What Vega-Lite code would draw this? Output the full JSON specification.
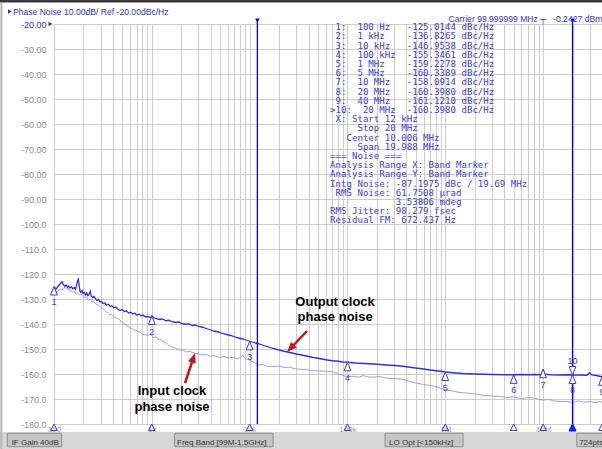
{
  "$schema": "https://vega.github.io/schema/vega-lite/v6.json",
  "width": 548,
  "height": 400,
  "autosize": {"type": "none"},
  "padding": {"left": 54, "top": 24, "right": 0, "bottom": 25},
  "background": "#ffffff",
  "config": {"view": {"stroke": null}, "font": "Liberation Sans"},
  "resolve": {"axis": {"x": "independent", "y": "independent"}},
  "data": {"values": [{}]},
  "datasets": {
    "input": [
      {"freq":100,"level":-127.6},{"freq":104,"level":-126.9},{"freq":108,"level":-127.3},{"freq":112,"level":-126.4},{"freq":116,"level":-126.0},{"freq":120,"level":-126.6},{"freq":125,"level":-125.7},{"freq":130,"level":-125.4},{"freq":135,"level":-126.1},{"freq":140,"level":-125.8},{"freq":145,"level":-126.9},{"freq":150,"level":-126.5},{"freq":156,"level":-127.4},{"freq":162,"level":-127.0},{"freq":168,"level":-128.1},{"freq":175,"level":-127.6},{"freq":182,"level":-128.4},{"freq":190,"level":-128.2},{"freq":198,"level":-129.0},{"freq":206,"level":-129.6},{"freq":215,"level":-129.3},{"freq":225,"level":-130.4},{"freq":235,"level":-130.0},{"freq":245,"level":-131.2},{"freq":255,"level":-131.0},{"freq":265,"level":-131.9},{"freq":280,"level":-132.3},{"freq":295,"level":-133.0},{"freq":310,"level":-133.8},{"freq":325,"level":-134.2},{"freq":340,"level":-135.1},{"freq":355,"level":-135.4},{"freq":374,"level":-136.4},{"freq":390,"level":-136.2},{"freq":410,"level":-137.1},{"freq":430,"level":-137.6},{"freq":450,"level":-137.9},{"freq":473,"level":-138.4},{"freq":495,"level":-139.3},{"freq":520,"level":-139.9},{"freq":545,"level":-140.5},{"freq":570,"level":-140.9},{"freq":598,"level":-141.6},{"freq":630,"level":-141.9},{"freq":660,"level":-142.6},{"freq":690,"level":-142.4},{"freq":720,"level":-143.2},{"freq":757,"level":-143.0},{"freq":790,"level":-143.9},{"freq":830,"level":-144.3},{"freq":860,"level":-144.0},{"freq":893,"level":-144.8},{"freq":940,"level":-144.2},{"freq":1000,"level":-144.4},{"freq":1050,"level":-145.6},{"freq":1100,"level":-145.1},{"freq":1150,"level":-146.2},{"freq":1200,"level":-146.0},{"freq":1300,"level":-147.0},{"freq":1400,"level":-147.6},{"freq":1500,"level":-148.6},{"freq":1640,"level":-149.3},{"freq":1750,"level":-149.6},{"freq":1900,"level":-150.4},{"freq":2080,"level":-150.4},{"freq":2250,"level":-151.2},{"freq":2450,"level":-150.9},{"freq":2630,"level":-151.5},{"freq":2850,"level":-151.8},{"freq":3100,"level":-152.1},{"freq":3400,"level":-152.4},{"freq":3700,"level":-152.2},{"freq":4000,"level":-152.9},{"freq":4300,"level":-152.6},{"freq":4640,"level":-153.1},{"freq":5000,"level":-153.4},{"freq":5500,"level":-152.9},{"freq":6000,"level":-153.6},{"freq":6750,"level":-153.3},{"freq":7500,"level":-153.9},{"freq":8000,"level":-153.4},{"freq":8540,"level":-152.4},{"freq":9000,"level":-153.9},{"freq":9500,"level":-154.2},{"freq":10000,"level":-154.4},{"freq":11000,"level":-155.2},{"freq":12200,"level":-156.4},{"freq":13500,"level":-156.2},{"freq":15000,"level":-156.9},{"freq":17300,"level":-157.1},{"freq":20000,"level":-156.8},{"freq":22500,"level":-157.4},{"freq":25800,"level":-157.3},{"freq":29000,"level":-157.9},{"freq":32600,"level":-158.1},{"freq":38000,"level":-158.3},{"freq":45000,"level":-158.6},{"freq":52000,"level":-158.8},{"freq":60000,"level":-158.9},{"freq":71000,"level":-159.1},{"freq":80000,"level":-159.9},{"freq":90000,"level":-160.6},{"freq":100000,"level":-161.1},{"freq":115000,"level":-160.9},{"freq":130000,"level":-161.3},{"freq":145000,"level":-160.6},{"freq":158000,"level":-161.1},{"freq":180000,"level":-161.3},{"freq":210000,"level":-161.0},{"freq":250000,"level":-161.6},{"freq":300000,"level":-161.8},{"freq":350000,"level":-162.0},{"freq":420000,"level":-162.8},{"freq":500000,"level":-163.6},{"freq":600000,"level":-164.2},{"freq":760000,"level":-164.8},{"freq":880000,"level":-165.6},{"freq":1000000,"level":-166.4},{"freq":1200000,"level":-166.8},{"freq":1400000,"level":-167.4},{"freq":1680000,"level":-167.6},{"freq":2000000,"level":-168.0},{"freq":2500000,"level":-168.6},{"freq":3000000,"level":-168.8},{"freq":3600000,"level":-169.0},{"freq":4300000,"level":-169.4},{"freq":5000000,"level":-169.2},{"freq":6000000,"level":-169.8},{"freq":7000000,"level":-169.5},{"freq":8100000,"level":-169.6},{"freq":9000000,"level":-170.2},{"freq":10000000,"level":-170.4},{"freq":11500000,"level":-170.2},{"freq":13000000,"level":-170.8},{"freq":15000000,"level":-171.0},{"freq":17600000,"level":-171.0},{"freq":20000000,"level":-171.4},{"freq":23000000,"level":-170.8},{"freq":26000000,"level":-171.3},{"freq":30000000,"level":-171.0},{"freq":34000000,"level":-171.5},{"freq":38000000,"level":-171.0},{"freq":40000000,"level":-171.2}
    ],
    "output": [
      {"freq":100,"level":-126.8},{"freq":103,"level":-125.6},{"freq":106,"level":-125.9},{"freq":110,"level":-124.9},{"freq":114,"level":-124.2},{"freq":118,"level":-123.6},{"freq":121,"level":-123.1},{"freq":125,"level":-124.3},{"freq":129,"level":-124.9},{"freq":133,"level":-124.4},{"freq":137,"level":-125.3},{"freq":141,"level":-124.8},{"freq":146,"level":-125.6},{"freq":151,"level":-125.2},{"freq":156,"level":-125.9},{"freq":161,"level":-125.4},{"freq":166,"level":-126.1},{"freq":170,"level":-124.6},{"freq":174,"level":-122.8},{"freq":177,"level":-122.1},{"freq":180,"level":-123.9},{"freq":184,"level":-126.8},{"freq":188,"level":-127.4},{"freq":193,"level":-126.6},{"freq":198,"level":-127.8},{"freq":204,"level":-127.3},{"freq":210,"level":-128.4},{"freq":216,"level":-127.6},{"freq":222,"level":-128.7},{"freq":228,"level":-128.2},{"freq":235,"level":-126.9},{"freq":240,"level":-128.8},{"freq":248,"level":-129.4},{"freq":256,"level":-128.9},{"freq":265,"level":-129.8},{"freq":275,"level":-130.6},{"freq":285,"level":-130.2},{"freq":295,"level":-131.2},{"freq":305,"level":-131.0},{"freq":318,"level":-131.9},{"freq":330,"level":-131.5},{"freq":345,"level":-132.4},{"freq":360,"level":-132.1},{"freq":375,"level":-133.0},{"freq":390,"level":-132.7},{"freq":410,"level":-133.5},{"freq":430,"level":-133.2},{"freq":450,"level":-134.1},{"freq":475,"level":-134.6},{"freq":500,"level":-134.2},{"freq":525,"level":-135.0},{"freq":550,"level":-134.8},{"freq":580,"level":-135.6},{"freq":610,"level":-135.3},{"freq":640,"level":-136.0},{"freq":670,"level":-135.7},{"freq":700,"level":-136.4},{"freq":740,"level":-136.1},{"freq":780,"level":-136.7},{"freq":820,"level":-136.5},{"freq":870,"level":-137.2},{"freq":920,"level":-137.0},{"freq":970,"level":-137.5},{"freq":1000,"level":-136.8},{"freq":1060,"level":-137.6},{"freq":1120,"level":-137.9},{"freq":1200,"level":-138.2},{"freq":1280,"level":-138.0},{"freq":1400,"level":-138.7},{"freq":1500,"level":-138.5},{"freq":1600,"level":-139.1},{"freq":1750,"level":-139.4},{"freq":1900,"level":-139.2},{"freq":2000,"level":-139.8},{"freq":2200,"level":-140.1},{"freq":2400,"level":-140.0},{"freq":2600,"level":-140.6},{"freq":2800,"level":-140.4},{"freq":3000,"level":-141.0},{"freq":3300,"level":-141.3},{"freq":3600,"level":-141.8},{"freq":4000,"level":-142.4},{"freq":4400,"level":-142.9},{"freq":4800,"level":-143.2},{"freq":5300,"level":-143.8},{"freq":5800,"level":-144.2},{"freq":6400,"level":-144.6},{"freq":7000,"level":-145.1},{"freq":7700,"level":-145.6},{"freq":8500,"level":-146.0},{"freq":9300,"level":-146.5},{"freq":10000,"level":-146.9},{"freq":11000,"level":-147.4},{"freq":12000,"level":-147.8},{"freq":13500,"level":-148.4},{"freq":15000,"level":-149.0},{"freq":17000,"level":-149.7},{"freq":20000,"level":-150.4},{"freq":22500,"level":-150.9},{"freq":25000,"level":-151.3},{"freq":28000,"level":-151.7},{"freq":30000,"level":-152.0},{"freq":35000,"level":-152.5},{"freq":40000,"level":-153.0},{"freq":45000,"level":-153.4},{"freq":50000,"level":-153.7},{"freq":60000,"level":-154.3},{"freq":70000,"level":-154.7},{"freq":80000,"level":-154.9},{"freq":90000,"level":-155.2},{"freq":100000,"level":-155.3},{"freq":120000,"level":-155.6},{"freq":150000,"level":-155.8},{"freq":200000,"level":-156.1},{"freq":250000,"level":-156.4},{"freq":300000,"level":-156.6},{"freq":350000,"level":-156.8},{"freq":400000,"level":-157.1},{"freq":500000,"level":-157.6},{"freq":600000,"level":-158.0},{"freq":700000,"level":-158.4},{"freq":850000,"level":-158.8},{"freq":1000000,"level":-159.2},{"freq":1200000,"level":-159.5},{"freq":1500000,"level":-159.8},{"freq":2000000,"level":-160.0},{"freq":2500000,"level":-160.1},{"freq":3000000,"level":-160.2},{"freq":4000000,"level":-160.3},{"freq":5000000,"level":-160.3},{"freq":6000000,"level":-160.2},{"freq":7000000,"level":-160.3},{"freq":8000000,"level":-160.2},{"freq":9000000,"level":-160.3},{"freq":9700000,"level":-160.1},{"freq":10000000,"level":-158.1},{"freq":10300000,"level":-160.1},{"freq":12000000,"level":-160.3},{"freq":15000000,"level":-160.4},{"freq":18000000,"level":-160.3},{"freq":20000000,"level":-160.4},{"freq":24000000,"level":-160.4},{"freq":28000000,"level":-160.5},{"freq":30000000,"level":-159.5},{"freq":31500000,"level":-160.4},{"freq":35000000,"level":-160.6},{"freq":40000000,"level":-161.1}
    ],
    "markers": [
      {"marker":"1","freq":100,"value":-125.0144},
      {"marker":"2","freq":1000,"value":-136.8265},
      {"marker":"3","freq":10000,"value":-146.9538},
      {"marker":"4","freq":100000,"value":-155.3461},
      {"marker":"5","freq":1000000,"value":-159.2278},
      {"marker":"6","freq":5000000,"value":-160.3389},
      {"marker":"7","freq":10000000,"value":-158.0914},
      {"marker":"8","freq":20000000,"value":-160.398},
      {"marker":"9","freq":40000000,"value":-161.121}
    ],
    "active": [{"marker":"10","freq":20000000,"value":-160.398}],
    "band": [{"edge":"Start","freq":12000},{"edge":"Stop","freq":20000000}]
  },
  "layer": [
    {
      "data": {"name": "input"},
      "mark": {"type": "line", "color": "#9d9df2", "strokeWidth": 1},
      "encoding": {
        "x": {"field": "freq", "type": "quantitative",
          "scale": {"type": "log", "domain": [100, 40000000], "nice": false},
          "axis": {"orient": "bottom", "title": null, "grid": true, "gridColor": "#cccccc", "gridWidth": 1, "domain": false, "ticks": false,
            "values": [100,200,300,400,500,600,700,800,900,1000,2000,3000,4000,5000,6000,7000,8000,9000,10000,20000,30000,40000,50000,60000,70000,80000,90000,100000,200000,300000,400000,500000,600000,700000,800000,900000,1000000,2000000,3000000,4000000,5000000,6000000,7000000,8000000,9000000,10000000,20000000,30000000,40000000],
            "labelExpr": "datum.value == 100 ? '100' : datum.value == 1000 ? '1k' : datum.value == 10000 ? '10k' : datum.value == 100000 ? '100k' : datum.value == 1000000 ? '1M' : datum.value == 10000000 ? '10M' : ''",
            "labelColor": "#9a9aaa", "labelFontSize": 8, "labelPadding": 1, "labelOverlap": false, "labelFlush": false}},
        "y": {"field": "level", "type": "quantitative",
          "scale": {"domain": [-180, -20], "zero": false, "nice": false},
          "axis": {"orient": "left", "title": null, "grid": true, "gridColor": "#cccccc", "gridWidth": 1, "domain": false, "ticks": false,
            "values": [-180,-170,-160,-150,-140,-130,-120,-110,-100,-90,-80,-70,-60,-50,-40,-30,-20],
            "labelExpr": "'-' + format(-datum.value, '.4r')",
            "labelColor": {"condition": {"test": "datum.value == -20", "value": "#3232c8"}, "value": "#8c8c96"},
            "labelFontSize": 9, "labelPadding": 8, "labelOverlap": false}}
      }
    },
    {
      "data": {"name": "output"},
      "mark": {"type": "line", "color": "#2f2fe0", "strokeWidth": 1.3},
      "encoding": {
        "x": {"field": "freq", "type": "quantitative", "axis": null},
        "y": {"field": "level", "type": "quantitative", "axis": null}
      }
    },
    {
      "data": {"name": "band"},
      "mark": {"type": "rule", "color": "#0000ff", "strokeWidth": 1.3},
      "encoding": {
        "x": {"field": "freq", "type": "quantitative", "axis": null},
        "y": {"datum": -18.2, "type": "quantitative", "axis": null},
        "y2": {"datum": -180}
      }
    },
    {
      "data": {"name": "band"},
      "mark": {"type": "point", "shape": "triangle-down", "size": 22, "filled": true, "color": "#0000ff", "opacity": 1},
      "encoding": {
        "x": {"field": "freq", "type": "quantitative", "axis": null},
        "y": {"datum": -18.6, "type": "quantitative", "axis": null}
      }
    },
    {
      "data": {"name": "markers"},
      "mark": {"type": "point", "shape": "M0,0L-0.8,2L0.8,2Z", "size": 72, "fill": "#ffffff", "stroke": "#3a3ad0", "strokeWidth": 1, "opacity": 1},
      "encoding": {
        "x": {"field": "freq", "type": "quantitative", "axis": null},
        "y": {"field": "value", "type": "quantitative", "axis": null}
      }
    },
    {
      "data": {"name": "markers"},
      "mark": {"type": "text", "dy": 15.5, "fontSize": 9, "color": "#3a3ad0", "baseline": "middle", "align": "center"},
      "encoding": {
        "x": {"field": "freq", "type": "quantitative", "axis": null},
        "y": {"field": "value", "type": "quantitative", "axis": null},
        "text": {"field": "marker"}
      }
    },
    {
      "data": {"name": "active"},
      "mark": {"type": "point", "shape": "M0,0L-0.8,-2L0.8,-2Z", "size": 72, "fill": "#ffffff", "stroke": "#3a3ad0", "strokeWidth": 1, "opacity": 1},
      "encoding": {
        "x": {"field": "freq", "type": "quantitative", "axis": null},
        "y": {"field": "value", "type": "quantitative", "axis": null}
      }
    },
    {
      "data": {"name": "active"},
      "mark": {"type": "text", "dy": -14, "fontSize": 9, "color": "#3a3ad0", "baseline": "middle", "align": "center"},
      "encoding": {
        "x": {"field": "freq", "type": "quantitative", "axis": null},
        "y": {"field": "value", "type": "quantitative", "axis": null},
        "text": {"field": "marker"}
      }
    },
    {
      "data": {"name": "markers"},
      "mark": {"type": "point", "shape": "M0,0L-1,2L1,2Z", "size": 42, "fill": "transparent", "stroke": "#3a3ad0", "strokeWidth": 1, "opacity": 1},
      "encoding": {
        "x": {"field": "freq", "type": "quantitative", "axis": null},
        "y": {"datum": -180, "type": "quantitative", "axis": null}
      }
    },
    {
      "data": {"name": "active"},
      "mark": {"type": "point", "shape": "M0,0L-1,2L1,2Z", "size": 50, "fill": "#1e1ee0", "stroke": "#1e1ee0", "strokeWidth": 1, "opacity": 1},
      "encoding": {
        "x": {"field": "freq", "type": "quantitative", "axis": null},
        "y": {"datum": -180, "type": "quantitative", "axis": null}
      }
    },
    {
      "mark": {"type": "rect", "color": "#d8d8d8"},
      "encoding": {
        "x": {"datum": 27, "type": "quantitative", "axis": null},
        "x2": {"datum": 50000000},
        "y": {"datum": -183.2, "type": "quantitative", "axis": null},
        "y2": {"datum": -192}
      }
    },
    {
      "mark": {"type": "rect", "fill": "#c6c6c6", "stroke": "#8e8e8e", "strokeWidth": 1},
      "encoding": {
        "x": {"datum": 33.3, "type": "quantitative", "axis": null},
        "x2": {"datum": 119.9},
        "y": {"datum": -183.72, "type": "quantitative", "axis": null},
        "y2": {"datum": -189.08}
      }
    },
    {
      "mark": {"type": "rect", "fill": "#c6c6c6", "stroke": "#8e8e8e", "strokeWidth": 1},
      "encoding": {
        "x": {"datum": 1706, "type": "quantitative", "axis": null},
        "x2": {"datum": 17350},
        "y": {"datum": -183.72, "type": "quantitative", "axis": null},
        "y2": {"datum": -189.08}
      }
    },
    {
      "mark": {"type": "rect", "fill": "#c6c6c6", "stroke": "#8e8e8e", "strokeWidth": 1},
      "encoding": {
        "x": {"datum": 242400, "type": "quantitative", "axis": null},
        "x2": {"datum": 1520000},
        "y": {"datum": -183.72, "type": "quantitative", "axis": null},
        "y2": {"datum": -189.08}
      }
    },
    {
      "mark": {"type": "rect", "fill": "#c6c6c6", "stroke": "#8e8e8e", "strokeWidth": 1},
      "encoding": {
        "x": {"datum": 22110000, "type": "quantitative", "axis": null},
        "x2": {"datum": 50000000},
        "y": {"datum": -183.72, "type": "quantitative", "axis": null},
        "y2": {"datum": -189.08}
      }
    },
    {
      "mark": {"type": "text", "text": "IF Gain 40dB", "fontSize": 8, "color": "#303030", "align": "left", "baseline": "alphabetic"},
      "encoding": {"x": {"datum": 36.9, "type": "quantitative", "axis": null}, "y": {"datum": -188.2, "type": "quantitative", "axis": null}}
    },
    {
      "mark": {"type": "text", "text": "Freq Band [99M-1.5GHz]", "fontSize": 8, "color": "#303030", "align": "left", "baseline": "alphabetic"},
      "encoding": {"x": {"datum": 1810, "type": "quantitative", "axis": null}, "y": {"datum": -188.2, "type": "quantitative", "axis": null}}
    },
    {
      "mark": {"type": "text", "text": "LO Opt [<150kHz]", "fontSize": 8, "color": "#303030", "align": "left", "baseline": "alphabetic"},
      "encoding": {"x": {"datum": 266300, "type": "quantitative", "axis": null}, "y": {"datum": -188.2, "type": "quantitative", "axis": null}}
    },
    {
      "mark": {"type": "text", "text": "724pts", "fontSize": 8, "color": "#303030", "align": "left", "baseline": "alphabetic"},
      "encoding": {"x": {"datum": 23350000, "type": "quantitative", "axis": null}, "y": {"datum": -188.2, "type": "quantitative", "axis": null}}
    },
    {
      "mark": {"type": "rule", "color": "#3a3a3a", "strokeWidth": 2.5},
      "encoding": {
        "x": {"datum": 27, "type": "quantitative", "axis": null},
        "x2": {"datum": 50000000},
        "y": {"datum": -10.9, "type": "quantitative", "axis": null}
      }
    },
    {
      "mark": {"type": "rule", "color": "#b4b4b4", "strokeWidth": 2},
      "encoding": {
        "x": {"datum": 29.0, "type": "quantitative", "axis": null},
        "y": {"datum": -11.5, "type": "quantitative", "axis": null},
        "y2": {"datum": -192}
      }
    },
    {
      "mark": {"type": "point", "shape": "triangle-right", "size": 22, "filled": true, "color": "#3232c8", "opacity": 1},
      "encoding": {"x": {"datum": 35.5, "type": "quantitative", "axis": null}, "y": {"datum": -15.0, "type": "quantitative", "axis": null}}
    },
    {
      "mark": {"type": "text", "text": "Phase Noise 10.00dB/ Ref -20.00dBc/Hz", "fontSize": 8.6, "color": "#3232c8", "align": "left", "baseline": "alphabetic"},
      "encoding": {"x": {"datum": 38.0, "type": "quantitative", "axis": null}, "y": {"datum": -16.4, "type": "quantitative", "axis": null}}
    },
    {
      "mark": {"type": "point", "shape": "triangle-right", "size": 22, "filled": true, "color": "#3232c8", "opacity": 1},
      "encoding": {"x": {"datum": 92.1, "type": "quantitative", "axis": null}, "y": {"datum": -20, "type": "quantitative", "axis": null}}
    },
    {
      "mark": {"type": "text", "text": "Carrier 99.999999 MHz", "fontSize": 8.6, "color": "#3232c8", "align": "right", "baseline": "alphabetic"},
      "encoding": {"x": {"datum": 8830000, "type": "quantitative", "axis": null}, "y": {"datum": -19.0, "type": "quantitative", "axis": null}}
    },
    {
      "mark": {"type": "text", "text": "┬", "fontSize": 8.6, "color": "#3232c8", "align": "center", "baseline": "alphabetic"},
      "encoding": {"x": {"datum": 10000000, "type": "quantitative", "axis": null}, "y": {"datum": -19.0, "type": "quantitative", "axis": null}}
    },
    {
      "mark": {"type": "text", "text": "-0.2427 dBm", "fontSize": 8.6, "color": "#3232c8", "align": "left", "baseline": "alphabetic"},
      "encoding": {"x": {"datum": 12650000, "type": "quantitative", "axis": null}, "y": {"datum": -19.0, "type": "quantitative", "axis": null}}
    },
    {
      "mark": {"type": "text", "font": "DejaVu Sans Mono", "fontSize": 9.1, "lineHeight": 9.2, "color": "#3c3cdc", "align": "left", "baseline": "alphabetic",
        "text": [
          "\u200b\u00a01:\u00a0\u00a0100\u00a0Hz\u00a0\u00a0\u00a0-125.0144\u00a0dBc/Hz",
          "\u200b\u00a02:\u00a0\u00a01\u00a0kHz\u00a0\u00a0\u00a0\u00a0-136.8265\u00a0dBc/Hz",
          "\u200b\u00a03:\u00a0\u00a010\u00a0kHz\u00a0\u00a0\u00a0-146.9538\u00a0dBc/Hz",
          "\u200b\u00a04:\u00a0\u00a0100\u00a0kHz\u00a0\u00a0-155.3461\u00a0dBc/Hz",
          "\u200b\u00a05:\u00a0\u00a01\u00a0MHz\u00a0\u00a0\u00a0\u00a0-159.2278\u00a0dBc/Hz",
          "\u200b\u00a06:\u00a0\u00a05\u00a0MHz\u00a0\u00a0\u00a0\u00a0-160.3389\u00a0dBc/Hz",
          "\u200b\u00a07:\u00a0\u00a010\u00a0MHz\u00a0\u00a0\u00a0-158.0914\u00a0dBc/Hz",
          "\u200b\u00a08:\u00a0\u00a020\u00a0MHz\u00a0\u00a0\u00a0-160.3980\u00a0dBc/Hz",
          "\u200b\u00a09:\u00a0\u00a040\u00a0MHz\u00a0\u00a0\u00a0-161.1210\u00a0dBc/Hz",
          ">10:\u00a0\u00a020\u00a0MHz\u00a0\u00a0-160.3980\u00a0dBc/Hz",
          "\u200b\u00a0X:\u00a0Start\u00a012\u00a0kHz",
          "\u200b\u00a0\u00a0\u00a0\u00a0\u00a0Stop\u00a020\u00a0MHz",
          "\u200b\u00a0\u00a0\u00a0Center\u00a010.006\u00a0MHz",
          "\u200b\u00a0\u00a0\u00a0\u00a0\u00a0Span\u00a019.988\u00a0MHz",
          "===\u00a0Noise\u00a0===",
          "Analysis\u00a0Range\u00a0X:\u00a0Band\u00a0Marker",
          "Analysis\u00a0Range\u00a0Y:\u00a0Band\u00a0Marker",
          "Intg\u00a0Noise:\u00a0-87.1975\u00a0dBc\u00a0/\u00a019.69\u00a0MHz",
          "\u200b\u00a0RMS\u00a0Noise:\u00a061.7508\u00a0µrad",
          "\u200b\u00a0\u00a0\u00a0\u00a0\u00a0\u00a0\u00a0\u00a0\u00a0\u00a0\u00a0\u00a03.53806\u00a0mdeg",
          "RMS\u00a0Jitter:\u00a098.279\u00a0fsec",
          "Residual\u00a0FM:\u00a0672.437\u00a0Hz"
        ]},
      "encoding": {"x": {"datum": 66370, "type": "quantitative", "axis": null}, "y": {"datum": -22.52, "type": "quantitative", "axis": null}}
    },
    {
      "mark": {"type": "text", "text": ["Output clock", "phase noise"], "font": "Liberation Sans", "fontSize": 13, "fontWeight": "bold", "lineHeight": 15, "color": "#000000", "align": "center", "baseline": "alphabetic"},
      "encoding": {"x": {"datum": 74690, "type": "quantitative", "axis": null}, "y": {"datum": -132.68, "type": "quantitative", "axis": null}}
    },
    {
      "mark": {"type": "text", "text": ["Input clock", "phase noise"], "font": "Liberation Sans", "fontSize": 13, "fontWeight": "bold", "lineHeight": 15.5, "color": "#000000", "align": "center", "baseline": "alphabetic"},
      "encoding": {"x": {"datum": 1609, "type": "quantitative", "axis": null}, "y": {"datum": -168.4, "type": "quantitative", "axis": null}}
    },
    {
      "mark": {"type": "rule", "color": "#c0161e", "strokeWidth": 2.5},
      "encoding": {
        "x": {"datum": 2185, "type": "quantitative", "axis": null}, "x2": {"datum": 2645},
        "y": {"datum": -163.6, "type": "quantitative", "axis": null}, "y2": {"datum": -153.9}
      }
    },
    {
      "mark": {"type": "point", "shape": "M0,0L-0.8,2L0.8,2Z", "size": 100, "angle": 18.4, "filled": true, "color": "#c0161e", "opacity": 1},
      "encoding": {"x": {"datum": 2765, "type": "quantitative", "axis": null}, "y": {"datum": -151.6, "type": "quantitative", "axis": null}}
    },
    {
      "mark": {"type": "rule", "color": "#c0161e", "strokeWidth": 2.5},
      "encoding": {
        "x": {"datum": 38640, "type": "quantitative", "axis": null}, "x2": {"datum": 26570},
        "y": {"datum": -142.8, "type": "quantitative", "axis": null}, "y2": {"datum": -149.5}
      }
    },
    {
      "mark": {"type": "point", "shape": "M0,0L-0.8,2L0.8,2Z", "size": 100, "angle": 223.6, "filled": true, "color": "#c0161e", "opacity": 1},
      "encoding": {"x": {"datum": 24130, "type": "quantitative", "axis": null}, "y": {"datum": -151.2, "type": "quantitative", "axis": null}}
    }
  ]
}
